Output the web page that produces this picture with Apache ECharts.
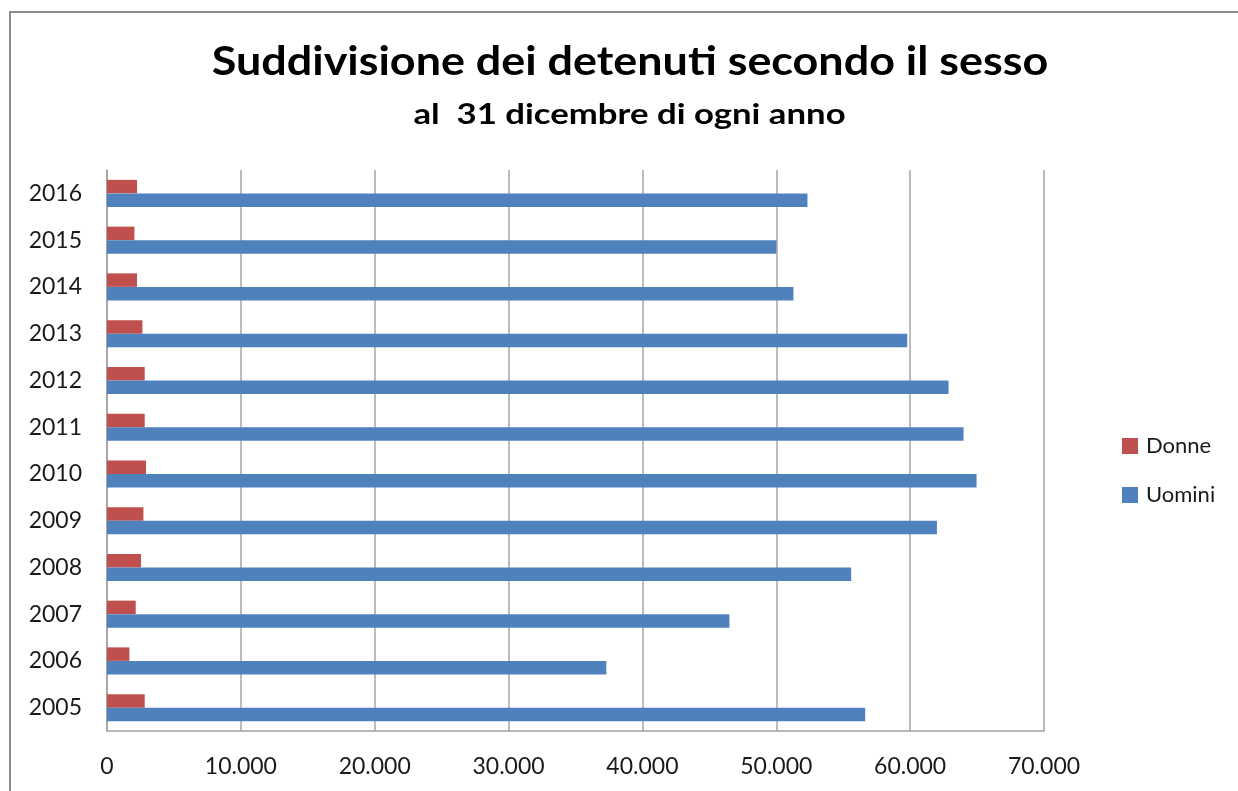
<!DOCTYPE html>
<html>
<head>
<meta charset="utf-8">
<script src="https://cdn.jsdelivr.net/npm/echarts@6/dist/echarts.min.js"></script>
<style>
html,body{margin:0;padding:0;background:#fff;}
#chart{width:1238px;height:791px;}
</style>
</head>
<body>
<div id="chart"></div>
<script>
const years = ['2005','2006','2007','2008','2009','2010','2011','2012','2013','2014','2015','2016'];
const donne = [2818, 1674, 2146, 2542, 2721, 2916, 2818, 2818, 2646, 2243, 2048, 2243];
const uomini = [56642, 37303, 46498, 55596, 62001, 64963, 63991, 62870, 59782, 51282, 50012, 52329];
const xTicks = { min: 0, max: 70000, interval: 10000 };
const titleText = 'Suddivisione dei detenuti secondo il sesso';
const subtitleText = 'al  31 dicembre di ogni anno';

const FONT = 'Lato, "Open Sans", sans-serif';
const fmt = v => String(v).replace(/\B(?=(\d{3})+(?!\d))/g, '.');

const chart = echarts.init(document.getElementById('chart'), null, {renderer: 'canvas'});
chart.setOption({
  backgroundColor: '#ffffff',
  animation: false,
  graphic: [
    {
      type: 'rect', silent: true, z: -1,
      shape: {x: 10, y: 12, width: 1260, height: 800},
      style: {fill: 'none', stroke: '#8c8c8c', lineWidth: 2}
    },
    {
      type: 'text', x: 630, y: 62.5, scaleX: 1.122, silent: true,
      style: {text: titleText, align: 'center', verticalAlign: 'middle',
              font: 'bold 40px ' + FONT, fill: '#000'}
    },
    {
      type: 'text', x: 629.5, y: 115, scaleX: 1.24, silent: true,
      style: {text: subtitleText, align: 'center', verticalAlign: 'middle',
              font: 'bold 28px ' + FONT, fill: '#000'}
    }
  ],
  legend: {
    orient: 'vertical', left: 1122, top: 435, padding: 0,
    itemWidth: 16, itemHeight: 16, itemGap: 27,
    icon: 'rect',
    textStyle: {fontFamily: FONT, fontSize: 22, color: '#1a1a1a', padding: [0, 0, 0, 3]},
    data: ['Donne', 'Uomini']
  },
  grid: {left: 107, right: 194, top: 170, bottom: 60, containLabel: false},
  xAxis: {
    type: 'value', min: xTicks.min, max: xTicks.max, interval: xTicks.interval,
    axisLine: {show: true, lineStyle: {color: '#a0a0a0', width: 1.5}},
    axisTick: {show: false},
    splitLine: {show: true, lineStyle: {color: '#a6a6a6', width: 1.5}},
    axisLabel: {formatter: fmt, margin: 24, fontFamily: FONT, fontSize: 23, color: '#1a1a1a'}
  },
  yAxis: {
    type: 'category', data: years,
    axisLine: {show: true, lineStyle: {color: '#a0a0a0', width: 1.5}},
    axisTick: {show: false},
    axisLabel: {margin: 25, fontFamily: FONT, fontSize: 23, color: '#1a1a1a'}
  },
  series: [
    {name: 'Donne', type: 'bar', data: donne, barWidth: 13.5, barGap: '0%',
     itemStyle: {color: '#C0504D'}},
    {name: 'Uomini', type: 'bar', data: uomini, barWidth: 13.5, barGap: '0%',
     itemStyle: {color: '#4F81BD'}}
  ]
});
</script>
</body>
</html>
